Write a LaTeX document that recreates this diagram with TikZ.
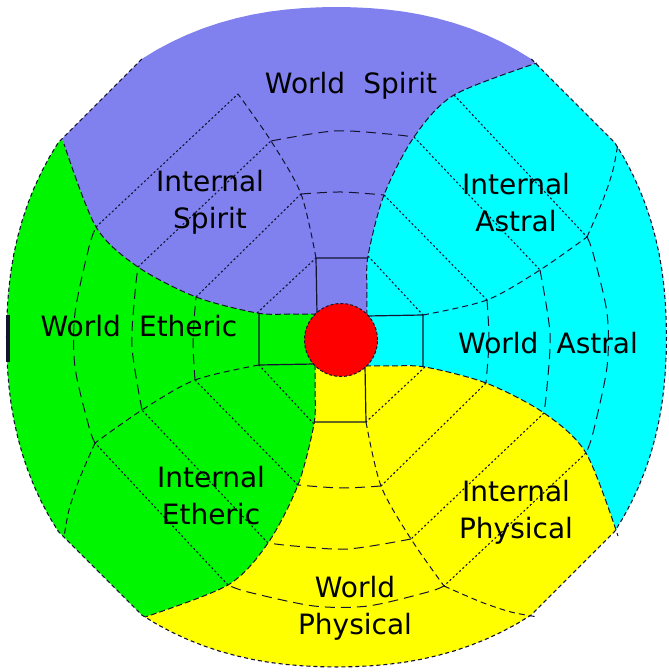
\documentclass[tikz,border=0pt]{standalone}
\usepackage{fontspec}
\setsansfont{DejaVu Sans}

\definecolor{spirit}{RGB}{128,128,238}
\definecolor{astral}{RGB}{0,255,255}
\definecolor{etheric}{RGB}{0,245,0}
\definecolor{physical}{RGB}{255,255,0}
\definecolor{corered}{RGB}{255,0,0}
\definecolor{ink}{RGB}{20,20,50}

\begin{document}
\begin{tikzpicture}[
    x = 0.5pt, y = 0.5pt,
    declare function = {orad(\t) = 330/((abs(cos(\t))+0.0001)^2.2 + (abs(sin(\t))+0.0001)^2.2)^(1/2.2);},
    rim/.style  = {draw = ink, line width = 0.55pt, dash pattern = on 2pt off 1.5pt},
    seam/.style = {draw = ink, line width = 0.5pt, dash pattern = on 3pt off 1.5pt},
    ring/.style = {draw = ink, line width = 0.5pt, dash pattern = on 3pt off 2pt},
    rung/.style = {draw = ink, line width = 0.5pt, dash pattern = on 5pt off 3pt},
    ray/.style  = {draw = ink, line width = 0.55pt, dash pattern = on 1pt off 1.2pt},
    cell/.style = {draw = ink, line width = 0.6pt},
    lbl/.style  = {font = {\sffamily\fontsize{14pt}{18.5pt}\selectfont\spaceskip=.65em\relax},
                   align = center, inner sep = 0pt}
  ]
    \useasboundingbox (-341,-332) rectangle (327,340);

    % ── Blades ───────────────────────────────────────────────────────────────
    \begin{scope}
      \clip[shift = {(-4.5,3)}] plot[domain=-35:35] (\x:{orad(\x)})
        -- plot[domain=55:125] (\x:{orad(\x)}) -- plot[domain=145:215] (\x:{orad(\x)})
        -- plot[domain=235:305] (\x:{orad(\x)}) -- cycle;
      \foreach \ang/\col in {0/astral, 90/spirit, 180/etheric, 270/physical}
        \fill[fill = \col, rotate = \ang] (0,0)
          -- plot[smooth] coordinates {(26,24) (26,50) (27,84) (43,145) (73,203) (113,245) (196,277)}
          -- (290,320) -- (520,0) -- (320,-290)
          -- plot[smooth] coordinates {(277,-196) (245,-113) (203,-73) (145,-43) (84,-27) (50,-26) (24,-26)}
          -- cycle;
    \end{scope}
    \draw[rim, shift = {(-4.5,3)}] (125:{orad(125)})
      -- plot[domain=145:215] (\x:{orad(\x)}) -- plot[domain=235:305] (\x:{orad(\x)})
      -- plot[domain=325:395] (\x:{orad(\x)}) -- (55:{orad(55)});
    \draw[ink, line width = 1.6pt] (-333,25) -- (-333,-22);

    % ── Grid of each blade ───────────────────────────────────────────────────
    \foreach \ang in {0, 90, 180, 270} {
      \begin{scope}[rotate = \ang]
        \draw[seam] plot[smooth] coordinates {(26,24) (26,50) (27,84) (43,145) (73,203) (113,245) (196,277)};
        \draw[ring] plot[smooth] coordinates {(82,25) (146,40) (199,70) (246,103)};
        \draw[ray]  (113,245) -- (246,103)  (73,203) -- (199,70)  (43,145) -- (146,40)  (27,84) -- (82,25);
        \draw[rung] plot[smooth] coordinates {(199,70) (209,7) (206,-47) (203,-73)};
        \draw[rung] plot[smooth] coordinates {(146,40) (148,0) (145,-43)};
        \draw[cell] (26,24) -- (82,25) -- (82,-27);
      \end{scope}
    }
    % outer rung and outer end of the ring (not in the Spirit blade)
    \foreach \ang in {0, 180, 270} {
      \begin{scope}[rotate = \ang]
        \draw[ring] plot[smooth] coordinates {(246,103) (262,140) (272,170) (277,197)};
        \draw[rung] plot[smooth] coordinates {(246,103) (252,87) (266,27) (266,-27) (252,-93) (245,-113)};
      \end{scope}
    }

    % ── Centre and labels ────────────────────────────────────────────────────
    \node[circle, fill = corered, draw = ink, line width = 0.5pt, dash pattern = on 1.5pt off 1pt,
          minimum size = 36.5pt, inner sep = 0pt] (centre) at (0,0) {};

    \node[lbl] (wspirit)   at (10,254)    {World Spirit};
    \node[lbl] (ispirit)   at (-131,138)  {Internal\\Spirit};
    \node[lbl] (iastral)   at (175,137)   {Internal\\Astral};
    \node[lbl] (wetheric)  at (-202,14)   {World Etheric};
    \node[lbl] (wastral)   at (207,-3)    {World Astral};
    \node[lbl] (ietheric)  at (-130,-156) {Internal\\Etheric};
    \node[lbl] (iphysical) at (175,-172)  {Internal\\Physical};
    \node[lbl] (wphysical) at (14,-268)   {World\\Physical};
  \end{tikzpicture}
\end{document}
